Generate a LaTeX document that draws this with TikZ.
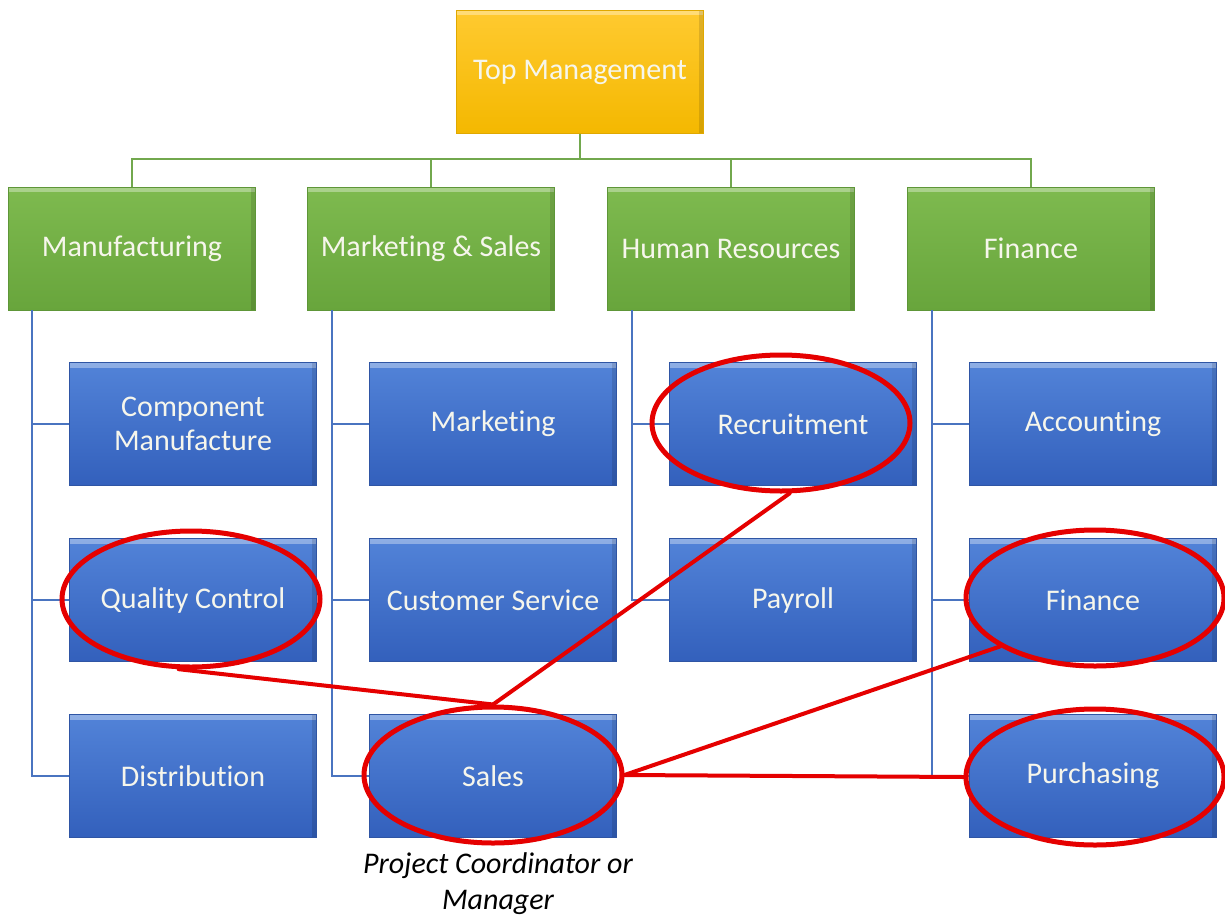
\documentclass[tikz,border=0pt]{standalone}
\usepackage{fontspec}
\setmainfont{Carlito}[Ligatures={NoCommon,NoContextual},RawFeature={-liga;-calt;-clig}]
\usetikzlibrary{shapes.geometric,calc}
\newcommand{\nolig}{\kern0pt}
\definecolor{blueT}{HTML}{5283D8}
\definecolor{blueB}{HTML}{3360BC}
\definecolor{blueEdge}{HTML}{2F55A4}
\definecolor{greenT}{HTML}{7EBA4F}
\definecolor{greenB}{HTML}{68A53C}
\definecolor{greenEdge}{HTML}{5E9638}
\definecolor{goldT}{HTML}{FFCA30}
\definecolor{goldB}{HTML}{F4B800}
\definecolor{goldEdge}{HTML}{E0A800}
\definecolor{boxtext}{HTML}{F6F6EC}
\definecolor{greenline}{HTML}{72A84E}
\definecolor{blueline}{HTML}{4A74C0}
\definecolor{redmark}{HTML}{E50000}
\begin{document}
\begin{tikzpicture}[x=1pt,y=-1pt,
  box/.style={rectangle, minimum width=247pt, minimum height=123pt, inner sep=0pt,
    text=boxtext, font=\fontsize{30}{35}\selectfont, align=center, line width=0.6pt,
    path picture={
      \fill[white,opacity=0.35] (path picture bounding box.north west) rectangle ([yshift=-5pt]path picture bounding box.north east);
      \fill[black,opacity=0.12] ([xshift=-5pt]path picture bounding box.north east) rectangle (path picture bounding box.south east);
    }},
  bluebox/.style={box, top color=blueT, bottom color=blueB, draw=blueEdge},
  greenbox/.style={box, top color=greenT, bottom color=greenB, draw=greenEdge},
  goldbox/.style={box, top color=goldT, bottom color=goldB, draw=goldEdge},
  gline/.style={draw=greenline, line width=1.8pt},
  bline/.style={draw=blueline, line width=1.5pt},
  ring/.style={ellipse, draw=redmark, line width=5pt, minimum width=258pt, minimum height=136pt, inner sep=0pt},
  rline/.style={draw=redmark, line width=4pt, line cap=round}
]
\useasboundingbox (0,0) rectangle (1225,915);
\fill[white] (0,0) rectangle (1225,915);

% top
\node[goldbox] (tm) at (580,72) {Top Management};
% green row
\node[greenbox] (g1) at (132,248.5) {Manufacturing};
\node[greenbox] (g2) at (431,248.5) {Market\nolig ing \& Sales};
\node[greenbox] (g3) at (731,248.5) {Human Resources};
\node[greenbox] (g4) at (1031,248.5) {Finance};
% blue boxes
\node[bluebox, font=\fontsize{30}{34}\selectfont] (b11) at (193,424) {Component\\Manufacture};
\node[bluebox] (b12) at (193,600) {Quality Control};
\node[bluebox] (b13) at (193,776) {Distribut\nolig ion};
\node[bluebox] (b21) at (493,424) {Market\nolig ing};
\node[bluebox] (b22) at (493,600) {Customer Service};
\node[bluebox] (b23) at (493,776) {Sales};
\node[bluebox] (b31) at (793,424) {Recruitment};
\node[bluebox] (b32) at (793,600) {Payroll};
\node[bluebox] (b41) at (1093,424) {Account\nolig ing};
\node[bluebox] (b42) at (1093,600) {Finance};
\node[bluebox] (b43) at (1093,776) {Purchasing};

% label
\node[font=\fontsize{30}{36}\selectfont\itshape, align=center, anchor=north, text=black] (lbl) at (498,849) {Project Coordinator or\\Manager};

% green connectors
\coordinate (bus) at (580,159);
\draw[gline] (tm.south) -- (bus);
\draw[gline] (g1.north) -- (g1.north |- bus) -- (g4.north |- bus) -- (g4.north);
\draw[gline] (g2.north) -- (g2.north |- bus);
\draw[gline] (g3.north) -- (g3.north |- bus);

% blue connectors
\coordinate (s1) at ($(g1.south west)+(24,0)$);
\coordinate (s2) at ($(g2.south west)+(25,0)$);
\coordinate (s3) at ($(g3.south west)+(25,0)$);
\coordinate (s4) at ($(g4.south west)+(25,0)$);
\draw[bline] (s1) |- (b13.west);
\draw[bline] (s1 |- b11.west) -- (b11.west);
\draw[bline] (s1 |- b12.west) -- (b12.west);
\draw[bline] (s2) |- (b23.west);
\draw[bline] (s2 |- b21.west) -- (b21.west);
\draw[bline] (s2 |- b22.west) -- (b22.west);
\draw[bline] (s3) |- (b32.west);
\draw[bline] (s3 |- b31.west) -- (b31.west);
\draw[bline] (s4) |- (b43.west);
\draw[bline] (s4 |- b41.west) -- (b41.west);
\draw[bline] (s4 |- b42.west) -- (b42.west);

% red ellipses
\node[ring] (eRec) at (781,423) {};
\node[ring] (eQC) at (191,599) {};
\node[ring] (eSales) at (493,775) {};
\node[ring] (eFin) at (1095,598) {};
\node[ring] (ePur) at (1095,777) {};

% red lines
\draw[rline] (eRec.-83) -- (eSales.north);
\draw[rline] (eQC.-100) -- (eSales.north);
\draw[rline] (eSales.east) -- (eFin.207);
\draw[rline] (eSales.east) -- (ePur.west);
\end{tikzpicture}
\end{document}
